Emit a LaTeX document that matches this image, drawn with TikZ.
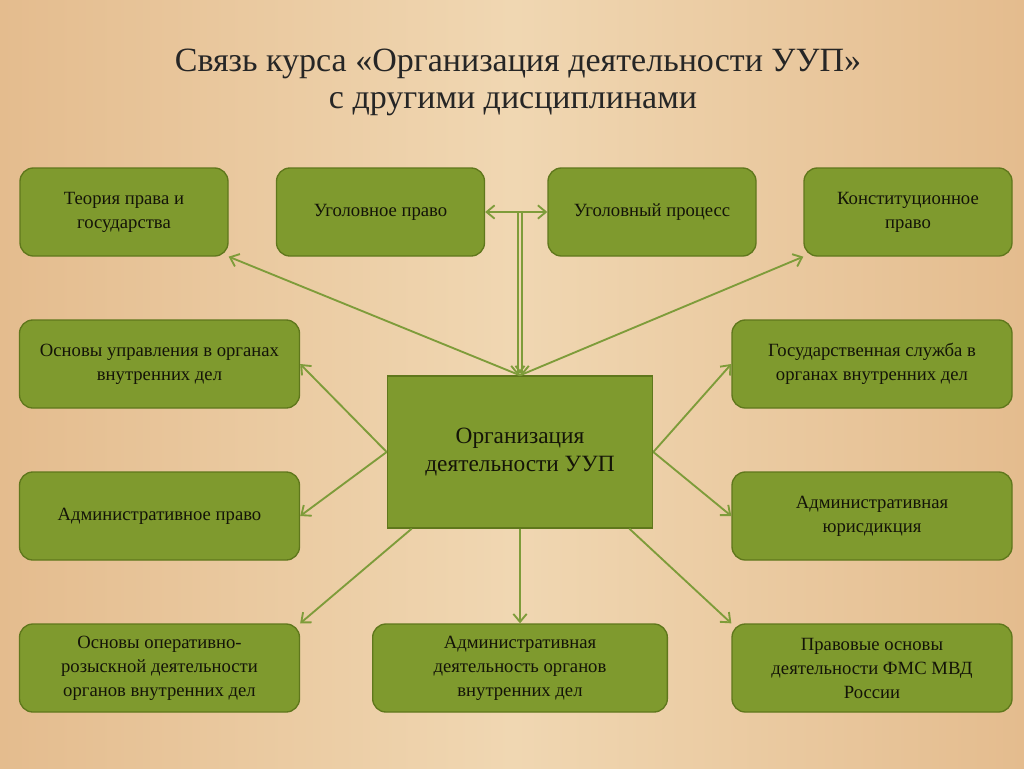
\documentclass[tikz,border=0pt]{standalone}
\usepackage{fontspec}
\setmainfont{Liberation Serif}
\usetikzlibrary{arrows.meta,positioning,calc}
\definecolor{boxfill}{HTML}{7F9A2E}
\definecolor{boxline}{HTML}{5F771C}
\definecolor{linkcol}{HTML}{7E9C3A}
\definecolor{woodA}{HTML}{E4BC8E}
\definecolor{woodB}{HTML}{F0D7B2}
\definecolor{inktext}{HTML}{141408}
\tikzset{>={Straight Barb[length=6pt,width=10pt]},auto}

\begin{document}
\begin{tikzpicture}[x=0.75pt,y=-0.75pt,
    box/.style={draw=boxline,line width=1pt,fill=boxfill,rounded corners=10pt,
        minimum height=66pt,align=center,text=inktext,font=\fontsize{14}{18}\selectfont},
    small/.style={box,minimum width=156pt},
    wide/.style={box,minimum width=210pt},
    core/.style={draw=boxline,line width=1pt,fill=boxfill,minimum width=199pt,minimum height=114pt,
        align=center,text=inktext,font=\fontsize{17.5}{21}\selectfont},
    heading/.style={anchor=base,text=black!85,font=\fontsize{25.5}{28}\selectfont},
    link/.style={draw=linkcol,line width=1.4pt}]
    % background
    \shade[left color=woodA,right color=woodA,middle color=woodB] (0,0) rectangle (1024,768);
    \useasboundingbox (0,0) rectangle (1024,768);
    % title
    \node[heading] (title1) at (518,71) {Связь курса «Организация деятельности УУП»};
    \node[heading] (title2) at (513,108) {с другими дисциплинами};
    % boxes
    \node[core] (c) at (520,452) {Организация\\деятельности УУП};
    \node[small] (t1) at (124,212) {Теория права и\\государства};
    \node[small] (t2) at (380.5,212) {Уголовное право};
    \node[small] (t3) at (652,212) {Уголовный процесс};
    \node[small] (t4) at (908,212) {Конституционное\\право};
    \node[wide] (l2) at (159.5,364) {Основы управления в органах\\внутренних дел};
    \node[wide] (r2) at (872,364) {Государственная служба в\\органах внутренних дел};
    \node[wide] (l3) at (159.5,516) {Административное право};
    \node[wide] (r3) at (872,516) {Административная\\юрисдикция};
    \node[wide] (b1) at (159.5,668) {Основы оперативно-\\розыскной деятельности\\органов внутренних дел};
    \node[box,minimum width=221pt] (b2) at (520,668) {Административная\\деятельность органов\\внутренних дел};
    \node[wide] (b3) at (872,668) {Правовые основы\\деятельности ФМС МВД\\России};
    \coordinate (ja) at ([xshift=-1.6pt]c.north);
    \coordinate (jb) at ([xshift=1.6pt]c.north);
    \coordinate (bl) at ($(c.south west)!0.094!(c.south east)$);
    \coordinate (br) at ($(c.south west)!0.91!(c.south east)$);
    % links
    \draw[link,->] (c.north) -- (t1.south east);
    \draw[link,->] (c.north) -- (t4.south west);
    \draw[link,->] (ja |- t2.east) -- (ja);
    \draw[link,->] (jb |- t2.east) -- (jb);
    \draw[link,<->] (t2.east) -- (t3.west);
    \draw[link,->] (c.west) -- (l2.east);
    \draw[link,->] (c.west) -- (l3.east);
    \draw[link,->] (c.east) -- (r2.west);
    \draw[link,->] (c.east) -- (r3.west);
    \draw[link,->] (bl) -- (b1.north east);
    \draw[link,->] (c.south) -- (b2.north);
    \draw[link,->] (br) -- (b3.north west);
\end{tikzpicture}
\end{document}
